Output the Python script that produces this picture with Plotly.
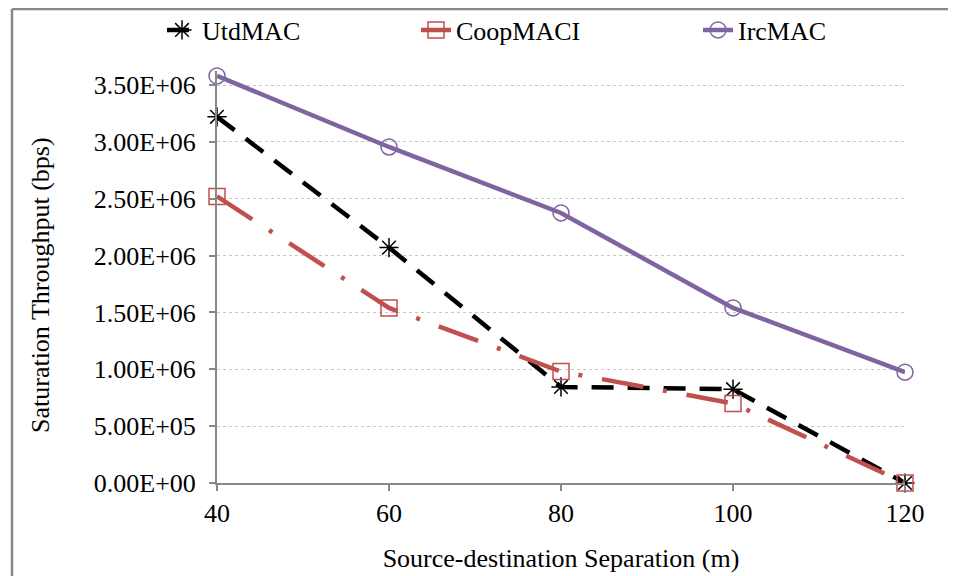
import plotly.graph_objects as go

x_vals = [40, 60, 80, 100, 120]
utdmac = [3.22e6, 2.07e6, 0.845e6, 0.825e6, 0.0]
coopmaci = [2.52e6, 1.54e6, 0.98e6, 0.70e6, 0.0]
ircmac = [3.58e6, 2.955e6, 2.375e6, 1.54e6, 0.975e6]
y_ticks = [0, 0.5e6, 1.0e6, 1.5e6, 2.0e6, 2.5e6, 3.0e6, 3.5e6]
y_tick_text = ["0.00E+00", "5.00E+05", "1.00E+06", "1.50E+06", "2.00E+06",
               "2.50E+06", "3.00E+06", "3.50E+06"]
x_title = "Source-destination Separation (m)"
y_title = "Saturation Throughput (bps)"

# page has an 8px body margin, so figure coordinates = page coordinates - 8
W, H = 956, 576
L, R, T, B = 209, 59, 63, 101
pw, ph = W - L - R, H - T - B
y_top = ph * 3.5e6 / 398.0

def px(x):
    return (x - L) / pw

def py(y):
    return (H - B - y) / ph

fig = go.Figure()
fig.add_trace(go.Scatter(
    x=x_vals, y=utdmac, name="UtdMAC", mode="lines+markers", legend="legend",
    line=dict(color="black", width=4.5, dash="22px,14px"),
    marker=dict(symbol="asterisk-open", size=16, color="black", line=dict(color="black", width=1.5)),
    cliponaxis=False))
fig.add_trace(go.Scatter(
    x=x_vals, y=coopmaci, name="CoopMACI", mode="lines+markers", legend="legend2",
    line=dict(color="#C0504D", width=4.5, dash="42px,20px,4px,20px"),
    marker=dict(symbol="square-open", size=16, color="#C0504D", line=dict(color="#C0504D", width=1.5)),
    cliponaxis=False))
fig.add_trace(go.Scatter(
    x=x_vals, y=ircmac, name="IrcMAC", mode="lines+markers", legend="legend3",
    line=dict(color="#8064A2", width=4.5),
    marker=dict(symbol="circle-open", size=16, color="#8064A2", line=dict(color="#8064A2", width=1.5)),
    cliponaxis=False))

font = dict(family="Liberation Serif, Times New Roman, serif", size=26, color="black")

def leg(xpage):
    return dict(orientation="h", x=px(xpage - 14), xanchor="left", y=py(22), yanchor="middle",
                font=font, bgcolor="rgba(0,0,0,0)")

fig.update_layout(
    width=W, height=H,
    margin=dict(l=L, r=R, t=T, b=B, autoexpand=False),
    paper_bgcolor="white", plot_bgcolor="white",
    font=font,
    showlegend=True,
    legend=leg(168),
    legend2=leg(422),
    legend3=leg(704),
    xaxis=dict(range=[40, 120], tickvals=x_vals, showgrid=False,
               showline=True, linecolor="#888888", linewidth=2,
               ticks="outside", ticklen=6, tickcolor="#888888", tickwidth=1.5,
               zeroline=False, automargin=False,
               title=dict(text=x_title, font=font, standoff=22),
               tickfont=font),
    yaxis=dict(range=[0, y_top], tickvals=y_ticks, ticktext=y_tick_text,
               showgrid=True, gridcolor="#C8C8C8", griddash="dot", gridwidth=1,
               showline=True, linecolor="#888888", linewidth=2,
               ticks="outside", ticklen=6, tickcolor="#888888", tickwidth=1.5,
               ticklabelstandoff=8,
               zeroline=False, automargin=False,
               tickfont=font),
    annotations=[
        dict(text=y_title, xref="paper", yref="paper", x=px(32), y=py(277),
             xanchor="center", yanchor="middle", textangle=-90, showarrow=False, font=font),
    ],
    shapes=[
        dict(type="line", xref="paper", yref="paper", x0=px(4), x1=px(956), y0=py(1), y1=py(1),
             line=dict(color="#888888", width=2.5)),
        dict(type="line", xref="paper", yref="paper", x0=px(4), x1=px(4), y0=py(1), y1=py(576),
             line=dict(color="#888888", width=2.5)),
    ],
)

fig.write_html("out.html")
